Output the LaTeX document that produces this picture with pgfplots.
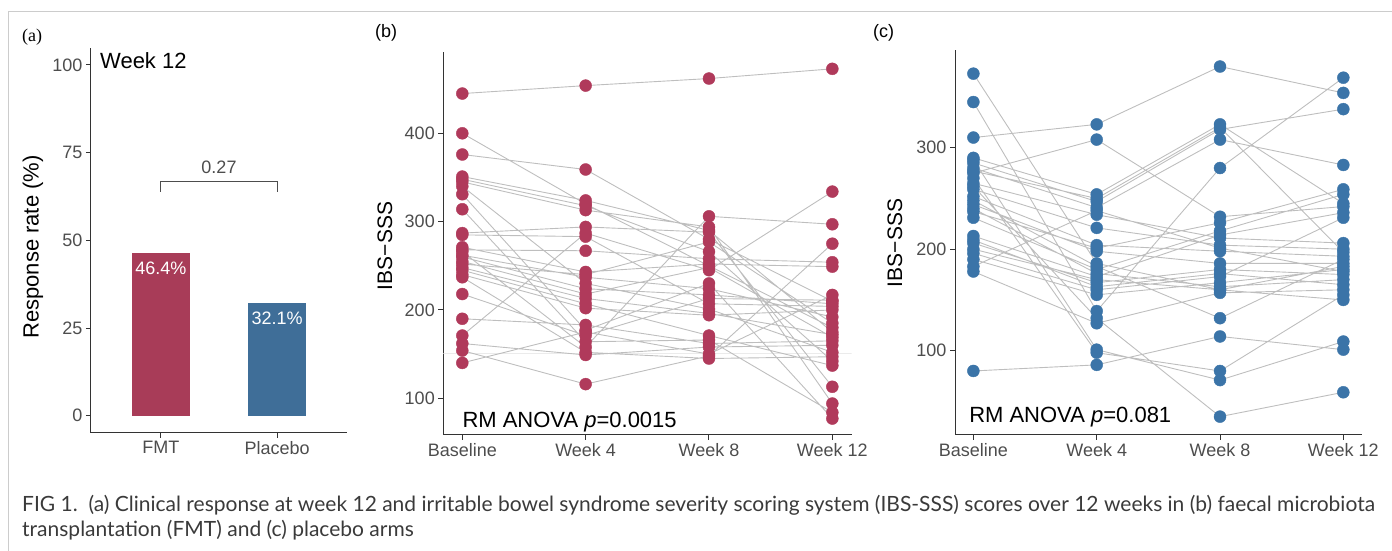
\documentclass[border=0pt]{standalone}
\usepackage{fontspec}
\setmainfont{Liberation Sans}
\newfontfamily\capfont{Lato}
\newfontfamily\serfont{Liberation Serif}
\usepackage{pgfplots}
\usepackage{pgfplotstable}
\pgfplotsset{compat=1.18}

\definecolor{fmtred}{HTML}{A83C58}
\definecolor{plablue}{HTML}{3F6E98}
\definecolor{ptred}{HTML}{B03A5B}
\definecolor{ptblue}{HTML}{3B74A8}
\definecolor{linegray}{HTML}{BEBEBE}
\definecolor{tickgray}{HTML}{4D4D4D}
\definecolor{axgray}{HTML}{333333}
\definecolor{framegray}{HTML}{CCCCCC}
\definecolor{capgray}{HTML}{3A3A3A}

% IBS-SSS per patient, FMT arm (0=Baseline,1=Week 4,2=Week 8,3=Week 12), nan ends a patient
\pgfplotstableread[row sep=\\]{
x y\\
0 445\\ 1 454\\ 2 462\\ 3 473\\ nan nan\\
0 400\\ 1 320\\ 2 250\\ 3 180\\ nan nan\\
0 376\\ 1 359\\ 2 280\\ 3 210\\ nan nan\\
0 351\\ 1 324\\ 2 290\\ 3 175\\ nan nan\\
0 348\\ 1 318\\ 2 266\\ 3 142\\ nan nan\\
0 345\\ 1 313\\ 2 294\\ 3 94\\ nan nan\\
0 340\\ 1 230\\ 2 201\\ 3 152\\ nan nan\\
0 331\\ 1 177\\ 2 230\\ 3 77\\ nan nan\\
0 314\\ 1 164\\ 2 166\\ 3 84\\ nan nan\\
0 287\\ 1 294\\ 2 288\\ 3 113\\ nan nan\\
0 285\\ 1 283\\ 2 207\\ 3 204\\ nan nan\\
0 271\\ 1 243\\ 2 252\\ 3 249\\ nan nan\\
0 268\\ 1 267\\ 2 258\\ 3 254\\ nan nan\\
0 266\\ 1 158\\ 2 306\\ 3 297\\ nan nan\\
0 262\\ 1 237\\ 2 224\\ 3 192\\ nan nan\\
0 260\\ 1 224\\ 2 217\\ 3 207\\ nan nan\\
0 255\\ 1 218\\ 2 248\\ 3 169\\ nan nan\\
0 252\\ 1 240\\ 2 277\\ 3 185\\ nan nan\\
0 248\\ 1 213\\ 2 196\\ 3 172\\ nan nan\\
0 245\\ 1 207\\ 2 171\\ 3 137\\ nan nan\\
0 240\\ 1 202\\ 2 194\\ 3 200\\ nan nan\\
0 237\\ 1 152\\ 2 145\\ 3 147\\ nan nan\\
0 218\\ 1 171\\ 2 213\\ 3 211\\ nan nan\\
0 190\\ 1 183\\ 2 162\\ 3 165\\ nan nan\\
0 171\\ 1 287\\ 2 245\\ 3 334\\ nan nan\\
0 162\\ 1 149\\ 2 158\\ 3 160\\ nan nan\\
0 154\\ 1 116\\ 2 148\\ 3 275\\ nan nan\\
0 140\\ 1 175\\ 2 150\\ 3 217\\
}\fmtdata

% placebo arm
\pgfplotstableread[row sep=\\]{
x y\\
0 310\\ 1 323\\ 2 380\\ 3 354\\ nan nan\\
0 275\\ 1 308\\ 2 232\\ 3 242\\ nan nan\\
0 373\\ 1 186\\ 2 160\\ 3 150\\ nan nan\\
0 345\\ 1 139\\ 2 280\\ 3 369\\ nan nan\\
0 290\\ 1 254\\ 2 323\\ 3 245\\ nan nan\\
0 285\\ 1 247\\ 2 318\\ 3 338\\ nan nan\\
0 280\\ 1 241\\ 2 308\\ 3 283\\ nan nan\\
0 265\\ 1 234\\ 2 211\\ 3 206\\ nan nan\\
0 259\\ 1 221\\ 2 204\\ 3 200\\ nan nan\\
0 252\\ 1 204\\ 2 198\\ 3 193\\ nan nan\\
0 244\\ 1 198\\ 2 186\\ 3 186\\ nan nan\\
0 237\\ 1 201\\ 2 226\\ 3 259\\ nan nan\\
0 231\\ 1 180\\ 2 218\\ 3 254\\ nan nan\\
0 213\\ 1 173\\ 2 214\\ 3 236\\ nan nan\\
0 206\\ 1 167\\ 2 180\\ 3 175\\ nan nan\\
0 196\\ 1 160\\ 2 173\\ 3 231\\ nan nan\\
0 190\\ 1 155\\ 2 167\\ 3 180\\ nan nan\\
0 178\\ 1 127\\ 2 157\\ 3 160\\ nan nan\\
0 80\\ 1 86\\ 2 114\\ 3 101\\ nan nan\\
0 288\\ 1 101\\ 2 71\\ 3 109\\ nan nan\\
0 262\\ 1 132\\ 2 35\\ 3 59\\ nan nan\\
0 270\\ 1 98\\ 2 80\\ 3 155\\ nan nan\\
0 248\\ 1 183\\ 2 132\\ 3 190\\ nan nan\\
0 240\\ 1 176\\ 2 163\\ 3 170\\ nan nan\\
0 209\\ 1 163\\ 2 176\\ 3 165\\ nan nan\\
0 200\\ 1 170\\ 2 160\\ 3 183\\ nan nan\\
0 183\\ 1 238\\ 2 201\\ 3 178\\ nan nan\\
0 277\\ 1 250\\ 2 320\\ 3 197\\
}\placebodata

\pgfplotsset{
  panel/.style={
    scale only axis,
    axis x line*=bottom, axis y line*=left,
    axis line style={axgray, line width=1pt},
    tick style={axgray, line width=1pt},
    major tick length=5pt, tick align=outside,
    ticklabel style={font=\fontsize{18}{20}\selectfont, text=tickgray},
    /pgf/number format/assume math mode=true,
    anchor=south west,
  },
  spag/.style={panel,
    xtick={0,1,2,3}, xticklabels={Baseline,Week 4,Week 8,Week 12},
  },
}

\begin{document}
\begin{tikzpicture}
\useasboundingbox (0,0) rectangle (1392pt,551pt);
\draw[framegray, line width=1pt] (8pt,0pt) -- (8pt,539pt) -- (1392pt,539pt);

% (a) response rate
\begin{axis}[panel, at={(91pt,118pt)}, width=256pt, height=385pt,
  xmin=0.4, xmax=2.6, ymin=-4.9, ymax=104.8,
  xtick={1,2}, xticklabels={FMT,Placebo},
  ytick={0,25,50,75,100},
  ybar, bar width=0.5, bar shift=0pt,
  nodes near coords={\pgfmathprintnumber[fixed,precision=1]{\pgfplotspointmeta}\%},
  every node near coord/.append style={anchor=north, text=white, yshift=-5pt,
    font=\fontsize{18}{20}\selectfont},
]
\addplot[fill=fmtred, draw=none] coordinates {(1,46.4)};
\addplot[fill=plablue, draw=none] coordinates {(2,32.1)};
\node[anchor=west, font=\fontsize{22}{24}\selectfont, inner sep=0pt] at (axis cs:0.477,101.1) {Week 12};
\draw[tickgray, line width=1pt] (axis cs:1,63.9) -- (axis cs:1,66.7) -- (axis cs:2,66.7) -- (axis cs:2,63.9);
\node[font=\fontsize{18}{20}\selectfont, text=tickgray] at (axis cs:1.5,70.8) {0.27};
\end{axis}

% (b) FMT arm
\begin{axis}[spag, at={(443.3pt,116pt)}, width=408.4pt, height=383.3pt,
  xmin=-0.154, xmax=3.157, ymin=58.4, ymax=492.4,
  ytick={100,200,300,400}]
\addplot[black!8, line width=0.8pt] coordinates {(-0.154,151) (3.157,151)};
\addplot[linegray, line width=0.9pt, unbounded coords=jump] table {\fmtdata};
\addplot[only marks, mark=*, mark size=6pt, ptred, draw=none] table {\fmtdata};
\node[anchor=west, font=\fontsize{22}{24}\selectfont, inner sep=0pt] at (axis cs:-0.0,73.2) {RM ANOVA \textit{p}=0.0015};
\end{axis}

% (c) placebo arm
\begin{axis}[spag, at={(955pt,116pt)}, width=406.7pt, height=385pt,
  xmin=-0.149, xmax=3.149, ymin=16.9, ymax=396.3,
  ytick={100,200,300}]
\addplot[linegray, line width=0.9pt, unbounded coords=jump] table {\placebodata};
\addplot[only marks, mark=*, mark size=6pt, ptblue, draw=none] table {\placebodata};
\node[anchor=west, font=\fontsize{22}{24}\selectfont, inner sep=0pt] at (axis cs:-0.035,34.6) {RM ANOVA \textit{p}=0.081};
\end{axis}

% axis titles and panel letters
\node[rotate=90, font=\fontsize{22}{24}\selectfont] at (33pt,304pt) {Response rate (\%)};
\node[rotate=90, font=\fontsize{21}{24}\selectfont] at (385pt,305pt) {IBS−SSS};
\node[rotate=90, font=\fontsize{21}{24}\selectfont] at (895pt,308pt) {IBS−SSS};
\node[anchor=west, font=\serfont\fontsize{18}{20}\selectfont, inner sep=0pt] at (22pt,514pt) {(a)};
\node[anchor=west, font=\fontsize{18}{20}\selectfont, inner sep=0pt] at (375pt,518pt) {(b)};
\node[anchor=west, font=\fontsize{18}{20}\selectfont, inner sep=0pt] at (873pt,518pt) {(c)};

% caption
\node[anchor=west, inner sep=0pt, text=capgray, font=\capfont\fontsize{21}{24}\selectfont] at (22pt,46pt)
  {FIG 1.\ \ (a) Clinical response at week 12 and irritable bowel syndrome severity scoring system (IBS-SSS) scores over 12 weeks in (b) faecal microbiota};
\node[anchor=west, inner sep=0pt, text=capgray, font=\capfont\fontsize{21}{24}\selectfont] at (22pt,21pt)
  {transplantation (FMT) and (c) placebo arms};
\end{tikzpicture}
\end{document}
